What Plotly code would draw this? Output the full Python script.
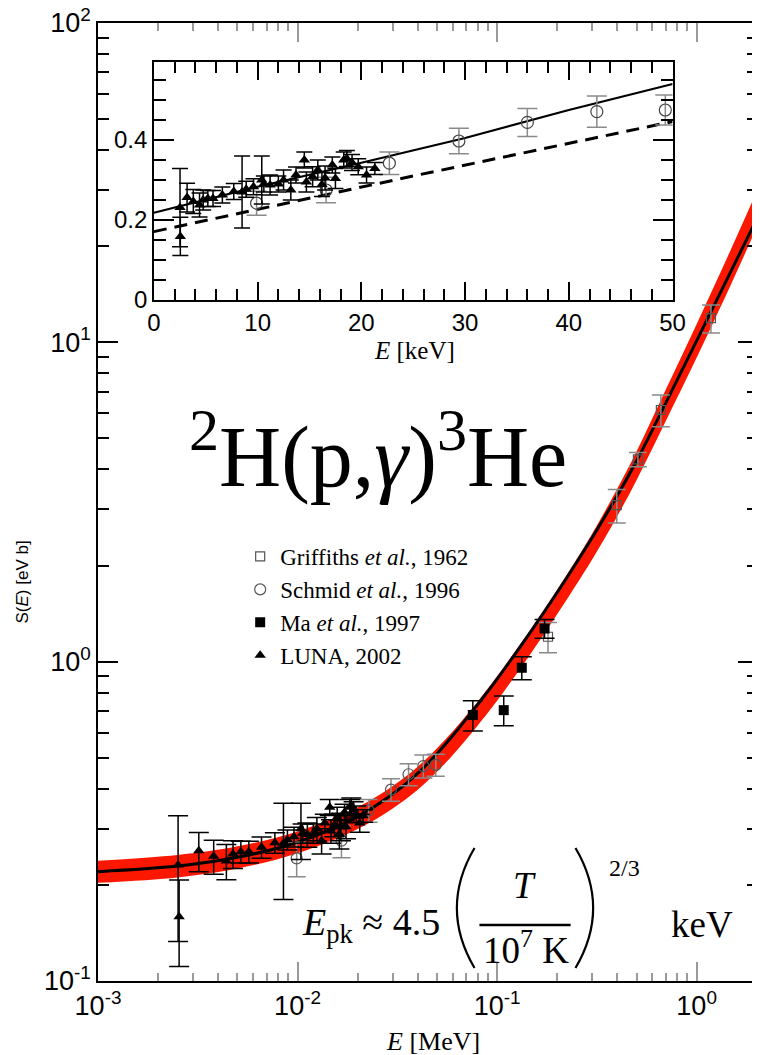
import plotly.graph_objects as go

W, H = 765, 1055
ML, MR, MT, MB = 98, 0, 23, 74

def px(x):
    return (x - ML) / (W - ML - MR)

def py(y):
    return (H - MB - y) / (H - MB - MT)

# ---------------- data ----------------
# S-factor model curve and its uncertainty band (E in MeV, S in eV b)
curve_E = [0.001, 0.0025, 0.005, 0.01, 0.02, 0.03, 0.04, 0.05, 0.06, 0.08, 0.1, 0.15, 0.2, 0.3, 0.4, 0.5, 0.7, 1.0, 1.5, 2.0]
curve_S = [0.220, 0.229, 0.244, 0.272, 0.327, 0.385, 0.447, 0.515, 0.587, 0.735, 0.882, 1.26, 1.646, 2.449, 3.31, 4.25, 6.45, 10.1, 16.9, 24.3]
band_hi = [0.238, 0.248, 0.264, 0.294, 0.350, 0.408, 0.469, 0.536, 0.605, 0.750, 0.900, 1.285, 1.679, 2.52, 3.48, 4.55, 7.10, 11.4, 19.8, 29.6]
band_lo = [0.203, 0.211, 0.225, 0.251, 0.299, 0.347, 0.397, 0.452, 0.510, 0.631, 0.754, 1.077, 1.407, 2.093, 2.853, 3.70, 5.66, 8.94, 15.36, 22.9]

# Griffiths et al., 1962 (E in MeV)
grif_E = [0.180, 0.398, 0.508, 0.662, 1.18]
grif_S = [1.197, 3.09, 4.30, 6.14, 11.9]
grif_err = [0.13, 0.37, 0.22, 0.70, 1.2]

# Schmid et al., 1996 (E in keV)
schmid_E = [9.9, 16.6, 22.7, 29.4, 36.0, 42.7, 49.3]
schmid_S = [0.242, 0.275, 0.342, 0.3975, 0.444, 0.471, 0.475]
schmid_err = [0.03, 0.032, 0.028, 0.032, 0.035, 0.039, 0.0375]

# Ma et al., 1997 (E in MeV)
ma_E = [0.0756, 0.108, 0.133, 0.173]
ma_S = [0.681, 0.705, 0.957, 1.27]
ma_err = [0.074, 0.075, 0.08, 0.085]

# LUNA, 2002 (E in keV)
luna_E = [2.52, 2.55, 3.2, 3.8, 4.4, 4.75, 5.2, 5.7, 6.6, 7.7, 8.5, 8.9, 9.6, 10.4, 10.6,
          11.2, 12.0, 12.5, 13.2, 13.7, 14.5, 14.7, 15.3, 15.8, 16.2, 16.5, 17.2, 17.5,
          18.3, 18.6, 19.1, 19.7, 20.5, 21.3]
luna_S = [0.231, 0.159, 0.256, 0.246, 0.2375, 0.25, 0.254, 0.254, 0.2625, 0.271, 0.27, 0.277, 0.283, 0.30, 0.29,
          0.2875, 0.29, 0.300, 0.275, 0.3125, 0.35, 0.295, 0.308, 0.325, 0.289, 0.305, 0.3375, 0.304,
          0.35, 0.354, 0.344, 0.333, 0.3125, 0.329]
luna_err = [0.098, 0.048, 0.036, 0.03, 0.03, 0.025, 0.02, 0.02, 0.02, 0.02, 0.09, 0.02, 0.02, 0.06, 0.02,
            0.025, 0.02, 0.025, 0.025, 0.02, 0.02, 0.025, 0.025, 0.025, 0.03, 0.03, 0.02, 0.025,
            0.02, 0.02, 0.02, 0.02, 0.02, 0.015]

# inset fit lines (E in keV)
inset_E = [0, 10, 20, 30, 40, 50]
inset_S = [0.218, 0.283, 0.343, 0.405, 0.475, 0.540]
dash_E = [0, 25, 50]
dash_S = [0.171, 0.31, 0.446]

# tick labels
x_tickvals = [0.001, 0.01, 0.1, 1]
x_ticktext = ['10<sup>-3</sup>', '10<sup>-2</sup>', '10<sup>-1</sup>', '10<sup>0</sup>']
y_tickvals = [0.1, 1, 10, 100]
y_ticktext = ['10<sup>-1</sup>', '10<sup>0</sup>', '10<sup>1</sup>', '10<sup>2</sup>']

luna_E_MeV = [e / 1000 for e in luna_E]
schmid_E_MeV = [e / 1000 for e in schmid_E]

x_minor = [m * 10.0 ** k for k in range(-3, 1) for m in range(2, 10)]
y_minor = [m * 10.0 ** k for k in range(-1, 2) for m in range(2, 10)]

RED = 'rgb(252,24,0)'
GRAY = '#8a8a8a'
SERIF = 'Liberation Serif'
SANS = 'Liberation Sans'

fig = go.Figure()

# ---------------- main plot ----------------
fig.add_trace(go.Scatter(x=curve_E, y=band_lo, mode='lines', line=dict(width=0, shape='spline', color=RED),
                         showlegend=False, hoverinfo='skip'))
fig.add_trace(go.Scatter(x=curve_E, y=band_hi, mode='lines', line=dict(width=0, shape='spline', color=RED),
                         fill='tonexty', fillcolor=RED, showlegend=False, hoverinfo='skip'))
fig.add_trace(go.Scatter(x=curve_E, y=curve_S, mode='lines', line=dict(width=3, shape='spline', color='black'),
                         showlegend=False, hoverinfo='skip'))

fig.add_trace(go.Scatter(x=grif_E, y=grif_S, mode='markers', name='Griffiths <i>et al.</i>, 1962',
                         marker=dict(symbol='square-open', size=9, color='#555', line=dict(width=1.2)),
                         error_y=dict(type='data', array=grif_err, color=GRAY, thickness=1.5, width=9)))
fig.add_trace(go.Scatter(x=schmid_E_MeV, y=schmid_S, mode='markers', name='Schmid <i>et al.</i>, 1996',
                         marker=dict(symbol='circle-open', size=11, color='#555', line=dict(width=1.2)),
                         error_y=dict(type='data', array=schmid_err, color=GRAY, thickness=1.5, width=9)))
fig.add_trace(go.Scatter(x=ma_E, y=ma_S, mode='markers', name='Ma <i>et al.</i>, 1997',
                         marker=dict(symbol='square', size=10, color='black'),
                         error_y=dict(type='data', array=ma_err, color='black', thickness=1.5, width=10)))
fig.add_trace(go.Scatter(x=luna_E_MeV, y=luna_S, mode='markers', name='LUNA, 2002',
                         marker=dict(symbol='triangle-up', size=10, color='black'),
                         error_y=dict(type='data', array=luna_err, color='black', thickness=1.5, width=10)))

# invisible trace that carries the right-hand tick axis
fig.add_trace(go.Scatter(x=curve_E, y=curve_S, yaxis='y3', mode='lines', line=dict(width=0),
                         opacity=0, showlegend=False, hoverinfo='skip'))

# ---------------- inset ----------------
fig.add_trace(go.Scatter(x=inset_E, y=inset_S, xaxis='x2', yaxis='y2', mode='lines',
                         line=dict(color='black', width=2.2), showlegend=False, hoverinfo='skip'))
fig.add_trace(go.Scatter(x=dash_E, y=dash_S, xaxis='x2', yaxis='y2', mode='lines',
                         line=dict(color='black', width=3, dash='13px,8px'), showlegend=False, hoverinfo='skip'))
fig.add_trace(go.Scatter(x=schmid_E, y=schmid_S, xaxis='x2', yaxis='y2', mode='markers', showlegend=False,
                         marker=dict(symbol='circle-open', size=12, color='#444', line=dict(width=1.2)),
                         error_y=dict(type='data', array=schmid_err, color=GRAY, thickness=1.5, width=10)))
fig.add_trace(go.Scatter(x=luna_E, y=luna_S, xaxis='x2', yaxis='y2', mode='markers', showlegend=False,
                         marker=dict(symbol='triangle-up', size=10, color='black'),
                         error_y=dict(type='data', array=luna_err, color='black', thickness=1.5, width=8)))

tickfont_main = dict(family=SANS, size=27, color='black')
tickfont_inset = dict(family=SANS, size=24, color='black')

fig.update_layout(
    width=W, height=H,
    margin=dict(l=ML, r=MR, t=MT, b=MB, pad=0),
    paper_bgcolor='white', plot_bgcolor='white',
    showlegend=True,
    legend=dict(x=px(243), y=py(535), xanchor='left', yanchor='top',
                font=dict(family=SERIF, size=23, color='black'),
                bgcolor='rgba(0,0,0,0)', traceorder='normal'),
    xaxis=dict(type='log', range=[-3, 0.2776], domain=[0, 1], anchor='y',
               showline=True, linecolor='black', linewidth=1.5, mirror='ticks',
               ticks='inside', ticklen=19, tickwidth=1.5, tickcolor='#9a9a9a',
               tickmode='array', tickvals=x_tickvals, ticktext=x_ticktext, tickfont=tickfont_main,
               minor=dict(ticks='inside', ticklen=8, tickwidth=1.5, tickcolor='#9a9a9a',
                          tickmode='array', tickvals=x_minor, showgrid=False),
               showgrid=False, zeroline=False),
    yaxis=dict(type='log', range=[-1, 2], domain=[0, 1], anchor='x',
               showline=True, linecolor='black', linewidth=1.5, mirror=False,
               ticks='inside', ticklen=20, tickwidth=1.5, tickcolor='black',
               tickmode='array', tickvals=y_tickvals, ticktext=y_ticktext, tickfont=tickfont_main,
               minor=dict(ticks='inside', ticklen=11, tickwidth=1.5, tickcolor='black',
                          tickmode='array', tickvals=y_minor, showgrid=False),
               showgrid=False, zeroline=False),
    yaxis3=dict(type='log', range=[-1, 2], overlaying='y', side='right', anchor='x',
                showline=False, showticklabels=False,
                ticks='inside', ticklen=14, tickwidth=1.5, tickcolor='black',
                tickmode='array', tickvals=y_tickvals,
                minor=dict(ticks='inside', ticklen=5, tickwidth=1.5, tickcolor='black',
                           tickmode='array', tickvals=y_minor, showgrid=False),
                showgrid=False, zeroline=False),
    xaxis2=dict(range=[0, 50], domain=[px(155), px(684)], anchor='y2',
                showline=True, linecolor='black', linewidth=1.5, mirror='ticks',
                ticks='inside', ticklen=18, tickwidth=1.5, tickcolor='black', dtick=10,
                tickfont=tickfont_inset,
                minor=dict(ticks='inside', ticklen=11, tickwidth=1.5, tickcolor='black', dtick=2, showgrid=False),
                showgrid=False, zeroline=False),
    yaxis2=dict(range=[0, 0.595], domain=[py(300), py(62)], anchor='x2',
                showline=True, linecolor='black', linewidth=1.5, mirror='ticks',
                ticks='inside', ticklen=20, tickwidth=1.5, tickcolor='black', dtick=0.2,
                tickfont=tickfont_inset,
                minor=dict(ticks='inside', ticklen=12, tickwidth=1.5, tickcolor='black', dtick=0.05, showgrid=False),
                showgrid=False, zeroline=False),
)

def label(text, x, y, size, family=SERIF, **kw):
    d = dict(text=text, x=px(x), y=py(y), xref='paper', yref='paper', showarrow=False,
             xanchor='center', yanchor='middle', font=dict(family=family, size=size, color='black'))
    d.update(kw)
    return d

ann = [
    # axis titles
    label('<i>E</i> [MeV]', 440, 1041, 26),
    label('S(<i>E</i>) [eV b]', 20, 582, 17, family=SANS, textangle=-90),
    label('<i>E</i> [keV]', 421, 350, 25),
    # reaction label
    label('<sup>2</sup>H(p,<i>γ</i>)<sup>3</sup>He', 384, 450, 86),
    # peak-energy formula
    label('<i>E</i><sub>pk</sub> ≈ 4.5', 376, 925, 38),
    label('<i>T</i>', 533, 885, 37),
    label('10<sup>7</sup> K', 535, 947, 37),
    label('2/3', 635, 868, 24),
    label('keV', 714, 924, 37),
]

shapes = [
    dict(type='line', xref='paper', yref='paper', x0=px(487), x1=px(580), y0=py(925), y1=py(925),
         line=dict(color='black', width=2.5)),
    dict(type='path', xref='paper', yref='paper',
         path=f'M {px(482)},{py(848)} Q {px(446)},{py(908)} {px(482)},{py(968)}',
         line=dict(color='black', width=2.2)),
    dict(type='path', xref='paper', yref='paper',
         path=f'M {px(585)},{py(848)} Q {px(621)},{py(908)} {px(585)},{py(968)}',
         line=dict(color='black', width=2.2)),
]

fig.update_layout(annotations=ann, shapes=shapes)

fig.write_html('out.html')
